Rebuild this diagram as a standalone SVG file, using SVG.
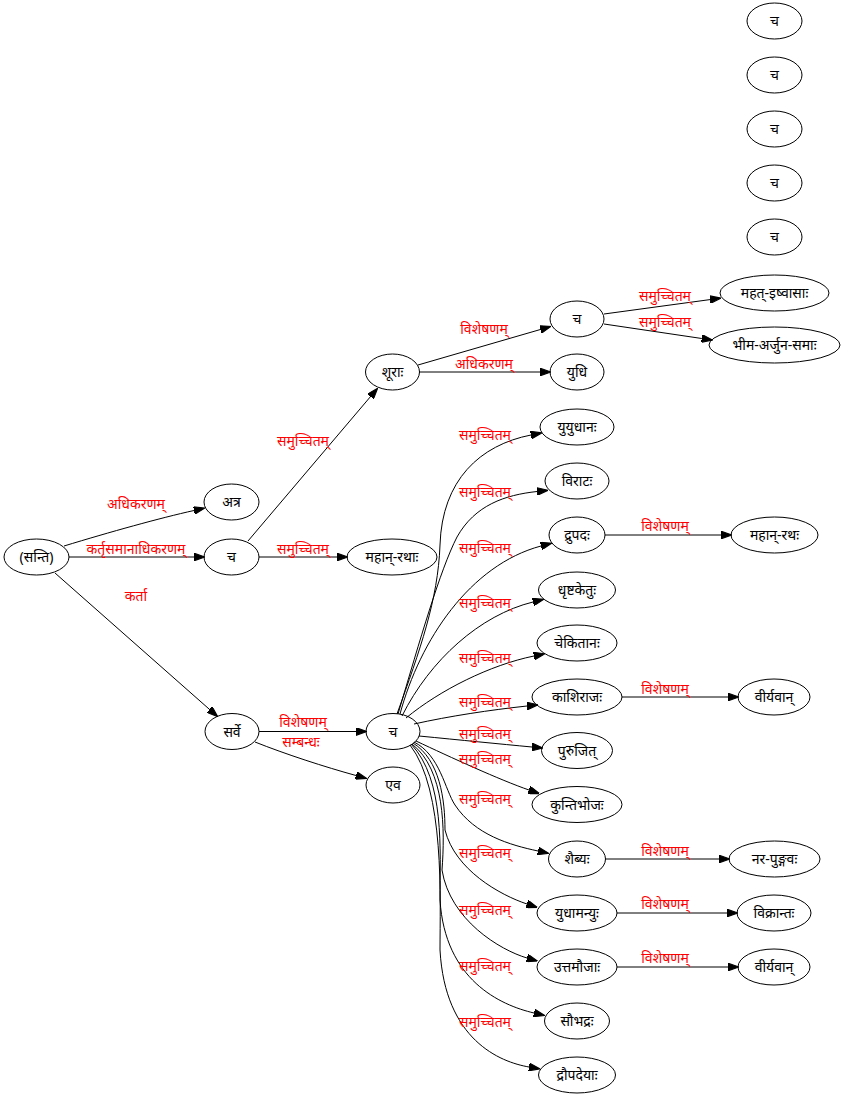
<svg xmlns="http://www.w3.org/2000/svg" width="843" height="1097" viewBox="0 0 843 1097">
<style>
.n ellipse{fill:none;stroke:#000;stroke-width:1}
.n text{font-family:"Noto Sans","DejaVu Sans",sans-serif;font-size:14px;text-anchor:middle;fill:#000}
#edges path{fill:none;stroke:#000;stroke-width:1;marker-end:url(#ah)}
#edges text{font-family:"Noto Sans","DejaVu Sans",sans-serif;font-size:14px;text-anchor:middle;fill:#ff0000}
</style>
<defs>
<marker id="ah" markerUnits="userSpaceOnUse" markerWidth="11" markerHeight="8" refX="0" refY="3.5" orient="auto" viewBox="0 0 10 7">
<path d="M0,0 L10,3.5 L0,7 z" fill="#000" stroke="#000"/>
</marker>
</defs>
<rect width="843" height="1097" fill="#fff"/>
<g id="edges">
<path d="M64,546 C110,532 160,518 194,510.5"/>
<text x="136" y="509">अधिकरणम्</text>
<path d="M69,557 L194,557"/>
<text x="136" y="554">कर्तृसमानाधिकरणम्</text>
<path d="M55,573 L209.5,709.4"/>
<text x="136" y="601">कर्ता</text>
<path d="M259,557 L337,557"/>
<text x="303" y="554">समुच्चितम्</text>
<path d="M248,541 L370.5,396.6"/>
<text x="303" y="446">समुच्चितम्</text>
<path d="M418,365 L540.4,329.5"/>
<text x="484" y="334">विशेषणम्</text>
<path d="M419,372 L540,372"/>
<text x="484" y="369">अधिकरणम्</text>
<path d="M604,314 L710,299.6"/>
<text x="665" y="301">समुच्चितम्</text>
<path d="M604,324 L701.8,338.5"/>
<text x="665" y="327">समुच्चितम्</text>
<path d="M259,731.5 L356,731.5"/>
<text x="303" y="727">विशेषणम्</text>
<path d="M255,742 C285,754 325,767 356,775.5"/>
<text x="301" y="747">सम्बन्धः</text>
<path d="M397,714 C420,650 438,600 440,545 C442,480 480,445 531,435"/>
<text x="485" y="440">समुच्चितम्</text>
<path d="M398,714 C420,640 440,570 457,537 C475,505 505,495 537,491.5"/>
<text x="485" y="497">समुच्चितम्</text>
<path d="M400,714 C420,640 470,565 541,546"/>
<text x="485" y="553">समुच्चितम्</text>
<path d="M402,716 C430,660 480,615 533,602"/>
<text x="485" y="608">समुच्चितम्</text>
<path d="M406,718 C440,690 490,665 534,656"/>
<text x="485" y="663">समुच्चितम्</text>
<path d="M414,724 C450,716 490,710 527,706"/>
<text x="485" y="707">समुच्चितम्</text>
<path d="M419,736 C460,740 500,744 532,747"/>
<text x="485" y="739">समुच्चितम्</text>
<path d="M416,741 C450,757 500,780 529,790"/>
<text x="485" y="764">समुच्चितम्</text>
<path d="M414,742 C440,755 445,790 455,805 C475,835 510,845 538,851"/>
<text x="485" y="804">समुच्चितम्</text>
<path d="M413,743 C440,760 445,800 445,830 C455,870 500,895 527,904"/>
<text x="485" y="858">समुच्चितम्</text>
<path d="M412,744 C445,770 445,830 442,870 C450,920 500,950 527,958"/>
<text x="485" y="915">समुच्चितम्</text>
<path d="M411,744 C445,780 440,850 440,900 C445,980 500,1005 534,1013"/>
<text x="485" y="971">समुच्चितम्</text>
<path d="M410,745 C445,790 440,900 440,950 C445,1040 500,1062 529,1067"/>
<text x="485" y="1027">समुच्चितम्</text>
<path d="M605,535 L721,535"/>
<text x="665" y="531">विशेषणम्</text>
<path d="M622,697 L728,697"/>
<text x="665" y="694">विशेषणम्</text>
<path d="M605.5,859 L719,859"/>
<text x="665" y="856">विशेषणम्</text>
<path d="M617,913 L727,913"/>
<text x="665" y="909">विशेषणम्</text>
<path d="M617,967 L728,967"/>
<text x="665" y="963">विशेषणम्</text>
</g>
<g id="n_santi" class="n"><ellipse cx="36.5" cy="557" rx="32.5" ry="18"/><text x="36.5" y="562">(सन्ति)</text></g>
<g id="n_atra" class="n"><ellipse cx="231.5" cy="502" rx="27.5" ry="18"/><text x="231.5" y="507">अत्र</text></g>
<g id="n_ca1" class="n"><ellipse cx="231.5" cy="557" rx="27.5" ry="18"/><text x="231.5" y="562">च</text></g>
<g id="n_mahanrathah1" class="n"><ellipse cx="392" cy="557" rx="45" ry="18"/><text x="392" y="562">महान्-रथाः</text></g>
<g id="n_shurah" class="n"><ellipse cx="392.5" cy="372" rx="27" ry="18"/><text x="392.5" y="377">शूराः</text></g>
<g id="n_ca2" class="n"><ellipse cx="577" cy="319" rx="27" ry="18"/><text x="577" y="324">च</text></g>
<g id="n_yudhi" class="n"><ellipse cx="577" cy="372" rx="27" ry="18"/><text x="577" y="377">युधि</text></g>
<g id="n_mahat" class="n"><ellipse cx="774.5" cy="293" rx="54.5" ry="18"/><text x="774.5" y="298">महत्-इष्वासाः</text></g>
<g id="n_bhima" class="n"><ellipse cx="774.5" cy="345" rx="65.5" ry="18"/><text x="774.5" y="350">भीम-अर्जुन-समाः</text></g>
<g id="n_ca_t1" class="n"><ellipse cx="774.5" cy="21" rx="27.5" ry="18"/><text x="774.5" y="26">च</text></g>
<g id="n_ca_t2" class="n"><ellipse cx="774.5" cy="75" rx="27.5" ry="18"/><text x="774.5" y="80">च</text></g>
<g id="n_ca_t3" class="n"><ellipse cx="774.5" cy="129" rx="27.5" ry="18"/><text x="774.5" y="134">च</text></g>
<g id="n_ca_t4" class="n"><ellipse cx="774.5" cy="183" rx="27.5" ry="18"/><text x="774.5" y="188">च</text></g>
<g id="n_ca_t5" class="n"><ellipse cx="774.5" cy="237" rx="27.5" ry="18"/><text x="774.5" y="242">च</text></g>
<g id="n_sarve" class="n"><ellipse cx="232" cy="731.5" rx="27" ry="18"/><text x="232" y="736.5">सर्वे</text></g>
<g id="n_ca3" class="n"><ellipse cx="393" cy="731.5" rx="27" ry="18"/><text x="393" y="736.5">च</text></g>
<g id="n_eva" class="n"><ellipse cx="393" cy="785" rx="27" ry="18"/><text x="393" y="790">एव</text></g>
<g id="n_yuyudhana" class="n"><ellipse cx="577" cy="427" rx="37" ry="18"/><text x="577" y="432">युयुधानः</text></g>
<g id="n_virata" class="n"><ellipse cx="577" cy="481" rx="32" ry="18"/><text x="577" y="486">विराटः</text></g>
<g id="n_drupada" class="n"><ellipse cx="577" cy="535" rx="28" ry="18"/><text x="577" y="540">द्रुपदः</text></g>
<g id="n_mahanrathah2" class="n"><ellipse cx="774.5" cy="535" rx="43.5" ry="18"/><text x="774.5" y="540">महान्-रथः</text></g>
<g id="n_dhrishtaketu" class="n"><ellipse cx="577" cy="590" rx="38.5" ry="18"/><text x="577" y="595">धृष्टकेतुः</text></g>
<g id="n_chekitana" class="n"><ellipse cx="577" cy="643" rx="40" ry="18"/><text x="577" y="648">चेकितानः</text></g>
<g id="n_kashiraja" class="n"><ellipse cx="577" cy="697" rx="45" ry="18"/><text x="577" y="702">काशिराजः</text></g>
<g id="n_viryavan1" class="n"><ellipse cx="774" cy="697" rx="36" ry="18"/><text x="774" y="702">वीर्यवान्</text></g>
<g id="n_purujit" class="n"><ellipse cx="577" cy="750.5" rx="35.5" ry="18"/><text x="577" y="755.5">पुरुजित्</text></g>
<g id="n_kuntibhoja" class="n"><ellipse cx="577" cy="804.5" rx="45" ry="18"/><text x="577" y="809.5">कुन्तिभोजः</text></g>
<g id="n_shaibya" class="n"><ellipse cx="577" cy="859" rx="28.5" ry="18"/><text x="577" y="864">शैब्यः</text></g>
<g id="n_narapungava" class="n"><ellipse cx="774.5" cy="859" rx="45.5" ry="18"/><text x="774.5" y="864">नर-पुङ्गवः</text></g>
<g id="n_yudhamanyu" class="n"><ellipse cx="577" cy="913" rx="40" ry="18"/><text x="577" y="918">युधामन्युः</text></g>
<g id="n_vikranta" class="n"><ellipse cx="774" cy="913" rx="37" ry="18"/><text x="774" y="918">विक्रान्तः</text></g>
<g id="n_uttamauja" class="n"><ellipse cx="577" cy="967" rx="40" ry="18"/><text x="577" y="972">उत्तमौजाः</text></g>
<g id="n_viryavan2" class="n"><ellipse cx="774" cy="967" rx="36" ry="18"/><text x="774" y="972">वीर्यवान्</text></g>
<g id="n_saubhadra" class="n"><ellipse cx="577" cy="1021" rx="32.5" ry="18"/><text x="577" y="1026">सौभद्रः</text></g>
<g id="n_draupadeya" class="n"><ellipse cx="577" cy="1075" rx="38.5" ry="18"/><text x="577" y="1080">द्रौपदेयाः</text></g>
</svg>
